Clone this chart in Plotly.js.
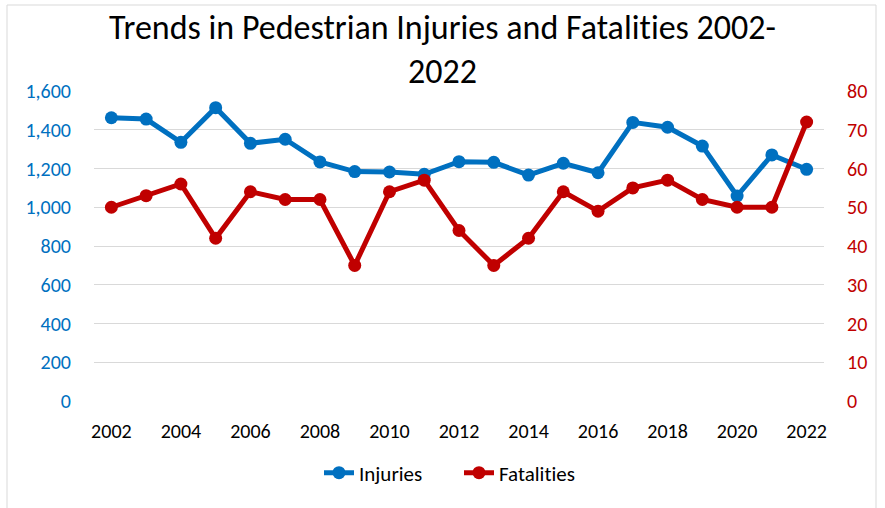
<!DOCTYPE html>
<html>
<head>
<meta charset="utf-8">
<script src="https://cdn.plot.ly/plotly-3.0.1.min.js"></script>
<style>
  body { margin: 0; background: #fff; }
  #chart { width: 885px; height: 508px; }
  #chart text { font-variant-ligatures: none; font-feature-settings: "liga" 0; }
</style>
</head>
<body>
<div id="chart"></div>
<script>
const years = [2002, 2003, 2004, 2005, 2006, 2007, 2008, 2009, 2010, 2011, 2012,
  2013, 2014, 2015, 2016, 2017, 2018, 2019, 2020, 2021, 2022];
const injuries = [1462, 1455, 1335, 1514, 1330, 1351, 1234, 1184, 1182, 1170, 1235,
  1232, 1166, 1227, 1178, 1438, 1413, 1316, 1058, 1270, 1196];
const fatalities = [50, 53, 56, 42, 54, 52, 52, 35, 54, 57, 44,
  35, 42, 54, 49, 55, 57, 52, 50, 50, 72];
const leftTicks = [0, 200, 400, 600, 800, 1000, 1200, 1400, 1600];
const rightTicks = [0, 10, 20, 30, 40, 50, 60, 70, 80];

const blue = '#0070C0';
const red = '#C00000';
const fontFam = 'Carlito, Calibri, Lato, sans-serif';

const trazos = [
  {
    x: years,
    y: injuries,
    name: 'Injuries',
    type: 'scatter',
    mode: 'lines+markers',
    line: { color: blue, width: 5 },
    marker: { color: blue, size: 13 }
  },
  {
    x: years,
    y: fatalities,
    name: 'Fatalities',
    type: 'scatter',
    mode: 'lines+markers',
    yaxis: 'y2',
    line: { color: red, width: 5 },
    marker: { color: red, size: 13 }
  }
];

const layout = {
  width: 885,
  height: 508,
  margin: { l: 94, r: 61, t: 91, b: 107 },
  paper_bgcolor: '#fff',
  plot_bgcolor: '#fff',
  font: { family: fontFam, size: 20, color: '#000' },
  title: {
    text: 'Trends in Pedestrian Injuries and Fatalities 2002-<br>2022',
    font: { family: fontFam, size: 34, color: '#000' },
    x: 0.5,
    xanchor: 'center',
    y: 1 - 39 / 508,
    yanchor: 'middle'
  },
  xaxis: {
    range: [2001.5, 2022.5],
    tickvals: years.filter(y => y % 2 === 0),
    ticktext: years.filter(y => y % 2 === 0).map(String),
    showgrid: false,
    zeroline: false,
    showline: false,
    ticks: 'outside',
    ticklen: 12,
    tickcolor: 'rgba(0,0,0,0)',
    tickfont: { family: fontFam, size: 20, color: '#000' }
  },
  yaxis: {
    range: [0, 1600],
    tickvals: leftTicks,
    ticktext: leftTicks.map(v => v.toLocaleString('en-US')),
    gridcolor: '#D9D9D9',
    gridwidth: 1,
    zeroline: false,
    showline: false,
    ticks: 'outside',
    ticklen: 18,
    tickcolor: 'rgba(0,0,0,0)',
    tickfont: { family: fontFam, size: 20, color: blue }
  },
  yaxis2: {
    range: [0, 80],
    tickvals: rightTicks,
    overlaying: 'y',
    side: 'right',
    showgrid: false,
    zeroline: false,
    showline: false,
    ticks: 'outside',
    ticklen: 18,
    tickcolor: 'rgba(0,0,0,0)',
    tickfont: { family: fontFam, size: 20, color: red }
  },
  showlegend: true,
  legend: {
    orientation: 'h',
    x: 0.5,
    xanchor: 'center',
    y: (401 - 473) / 310,
    yanchor: 'middle',
    font: { family: fontFam, size: 21, color: '#000' },
    itemwidth: 30,
    entrywidth: 95,
    entrywidthmode: 'pixels'
  },
  shapes: [
    {
      type: 'rect',
      xref: 'paper',
      yref: 'paper',
      x0: (7 - 94) / 730,
      x1: (876 - 94) / 730,
      y0: (401 - 520) / 310,
      y1: (401 - 5) / 310,
      line: { color: '#D9D9D9', width: 1 },
      layer: 'below'
    }
  ]
};

Plotly.newPlot('chart', trazos, layout, { displayModeBar: false });
</script>
</body>
</html>
